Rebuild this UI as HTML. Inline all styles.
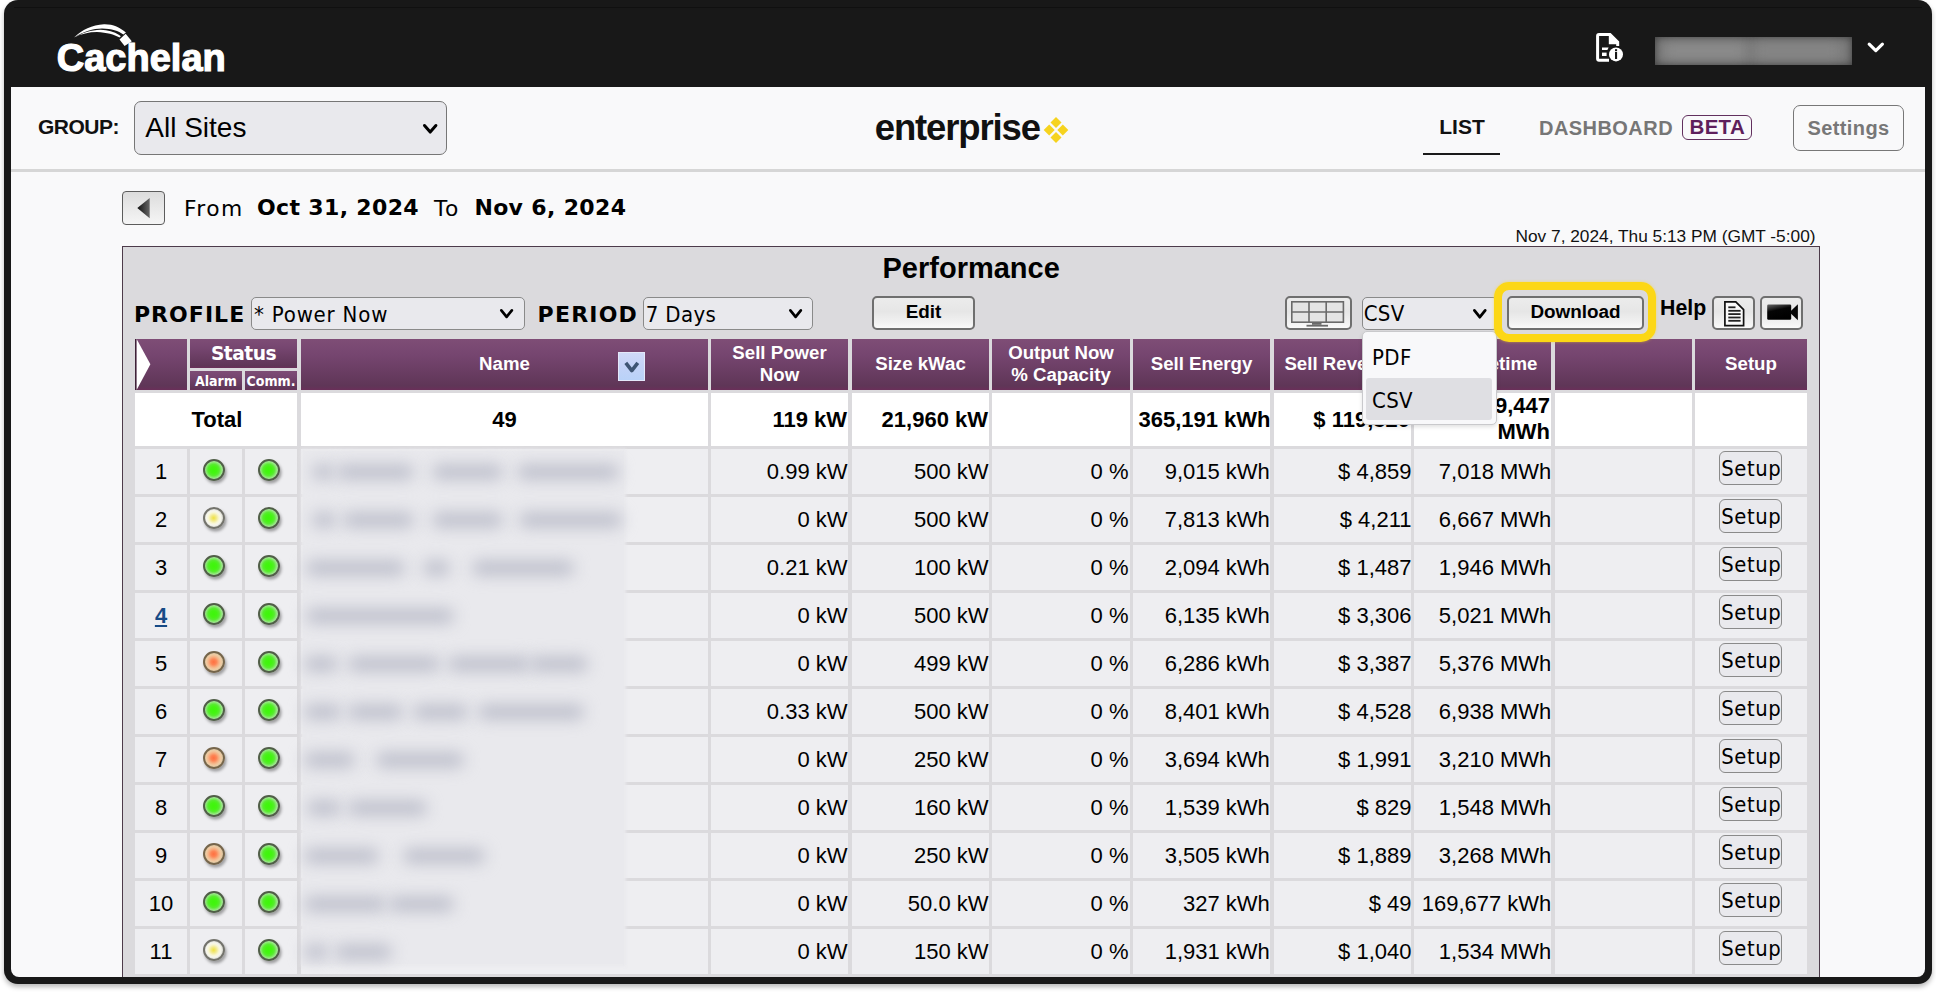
<!DOCTYPE html>
<html><head><meta charset="utf-8"><title>Cachelan enterprise - Performance</title>
<style>
*{box-sizing:border-box;margin:0;padding:0}
html,body{width:1936px;height:992px;overflow:hidden;background:#ffffff}
body{position:relative;font-family:"Liberation Sans",Arial,sans-serif}
.a{position:absolute}
.t{position:absolute;white-space:nowrap}
#frame{position:absolute;left:4px;top:0px;width:1928px;height:984px;background:#181818;border-radius:14px;box-shadow:0 3px 5px rgba(0,0,0,.28)}
#content{position:absolute;left:11px;top:87px;width:1914px;height:890px;background:#f9f9fa;border-radius:0 0 8px 8px}
#clip{position:absolute;left:0;top:0;width:1936px;height:977px;overflow:hidden}
.sel{position:absolute;background:#e9e9ed;border:1px solid #767676;border-radius:5px}
.btn{position:absolute;border:2px solid #6f6f6f;border-radius:5px;background:linear-gradient(#ececec,#e6e6e6 45%,#f1f1f1 80%,#fafafa)}
.hd{position:absolute;background:linear-gradient(#7e4d76 0%,#764670 30%,#6b3e64 60%,#5f3657 92%,#6a2f59 100%)}
.cell{position:absolute;background:#eeeef1}
.tot{position:absolute;background:#ffffff}
.lt{position:absolute;width:22px;height:22px;border-radius:50%;border:2.3px solid #505e47;box-shadow:1.5px 2.5px 3px rgba(0,0,0,.34)}
.g{background:radial-gradient(circle closest-side at 48% 50%,#3ef50a 0%,#44f412 38%,#58ec30 66%,#80e866 84%,#a2e892 100%)}
.y{border-color:#73736c;background:radial-gradient(circle closest-side at 48% 50%,#efe240 0%,#f2ea8a 32%,#f8f6d4 62%,#f6f6ee 84%,#e2e2da 100%)}
.o{border-color:#75654b;background:radial-gradient(circle closest-side at 48% 50%,#ff7040 0%,#fd8556 32%,#f6b083 60%,#efcaa2 84%,#e2c8a2 100%)}
.sb{position:absolute;width:63px;height:34px;background:#e9e9ed;border:1px solid #8a8a8a;border-radius:6px}
.blob{position:absolute;height:14px;border-radius:7px;background:#babcc9;filter:blur(8px)}
</style></head><body>
<div id="frame"></div>
<div id="content"></div>
<div id="clip">

<div class="a" style="left:14px;top:7px;width:1908px;height:1px;background:#101010"></div>
<svg class="a" style="left:60px;top:15px" width="90" height="40" viewBox="60 15 90 40"><path d="M74,37.4 C82,29.5 92,25 104,24.2 C113,24 120,27.5 125.9,32.4 L123.4,34.6 C118.3,31 112,28.8 102,28.6 C93,28.6 84,31.6 74,37.4 Z" fill="#fff"/><path d="M74.3,37.4 C82,32.9 91,29.9 100.5,29.7 C108,29.8 114,31.6 119.2,34.9 L120.8,36.3 L119.6,37.6 C114,34.6 107,32.6 97,32.1 C89,32.1 81,34 74.3,37.4 Z" fill="#fff"/><path d="M119.5,39.5 L125.7,33.7 L131.8,41.3 L124.6,46 Z" fill="#fff"/></svg>
<div class="t " style="left:56.80px;top:38.63px;font:bold 38px/38px 'Liberation Sans', Arial, sans-serif;color:#fff;-webkit-text-stroke:1.2px #fff;letter-spacing:0px;">Cachelan</div>
<svg class="a" style="left:1590px;top:28px" width="40" height="40" viewBox="0 0 40 40"><path d="M19,32.2 H9 Q7.6,32.2 7.6,30.8 V8 Q7.6,6.5 9,6.5 H20 L27.7,14.2 V18" fill="none" stroke="#fff" stroke-width="3"/><path d="M18.8,6 L29,16.3 L18.8,16.3 Z" fill="#fff"/><path d="M12,19.6 H18.6 L17.4,22 H12 Z" fill="#fff"/><rect x="12" y="24.6" width="4.6" height="3.4" fill="#fff"/><circle cx="26" cy="26.4" r="7" fill="#fff"/><rect x="25" y="21.2" width="2.1" height="2" fill="#181818"/><rect x="25" y="24" width="2.1" height="7" fill="#181818"/></svg>
<div class="a" style="left:1655px;top:36.5px;width:197px;height:28px;background:#7a7a7a;overflow:hidden"><div class="a" style="left:-6px;top:-6px;width:209px;height:40px;box-shadow:inset 0 0 9px 6px #3a3a3a;"></div><div class="a" style="left:10px;top:6px;width:80px;height:16px;background:#8c8c8c;filter:blur(6px)"></div><div class="a" style="left:100px;top:6px;width:85px;height:16px;background:#868686;filter:blur(6px)"></div></div>
<svg class="a" style="left:1864px;top:39px" width="24" height="16" viewBox="0 0 24 16"><path d="M5.2,5.2 L11.8,11.6 L18.4,5.2" fill="none" stroke="#fff" stroke-width="3.2" stroke-linecap="round" stroke-linejoin="round"/></svg>
<div class="t " style="left:38.00px;top:116.02px;font:bold 21px/21px 'Liberation Sans', Arial, sans-serif;color:#111;letter-spacing:-0.5px;">GROUP:</div>
<div class="sel" style="left:134px;top:101px;width:313px;height:54px;border-radius:7px"></div>
<div class="t " style="left:145.30px;top:114.10px;font:normal 28px/28px 'Liberation Sans', Arial, sans-serif;color:#000;">All Sites</div>
<svg class="a" style="left:420.2px;top:120.6px" width="20.4" height="15.6" viewBox="0 0 20.4 15.6"><path d="M4.50,4.50 L10.20,11.10 L15.90,4.50" fill="none" stroke="#000" stroke-width="3" stroke-linecap="round" stroke-linejoin="round"/></svg>
<div class="t " style="left:874.80px;top:109.90px;font:bold 36.5px/36.5px 'Liberation Sans', Arial, sans-serif;color:#111;letter-spacing:-1.15px;">enterprise</div>
<svg class="a" style="left:1040px;top:114px" width="32" height="32" viewBox="0 0 32 32"><g fill="#f6d31e"><rect x="-3.9" y="-3.9" width="7.8" height="7.8" transform="translate(16,8.6) rotate(45)"/><rect x="-3.9" y="-3.9" width="7.8" height="7.8" transform="translate(9.2,16) rotate(45)"/><rect x="-3.9" y="-3.9" width="7.8" height="7.8" transform="translate(22.8,16) rotate(45)"/><rect x="-3.9" y="-3.9" width="7.8" height="7.8" transform="translate(16,23.4) rotate(45)"/></g></svg>
<div class="t " style="left:1439.30px;top:116.02px;font:bold 21px/21px 'Liberation Sans', Arial, sans-serif;color:#111;">LIST</div>
<div class="a" style="left:1423px;top:152.5px;width:77px;height:2px;background:#1a1a1a"></div>
<div class="t " style="left:1539.00px;top:117.87px;font:bold 20px/20px 'Liberation Sans', Arial, sans-serif;color:#767676;letter-spacing:0.45px;">DASHBOARD</div>
<div class="a" style="left:1682px;top:115px;width:70px;height:25px;border:1.5px solid #62305e;border-radius:6px"></div>
<div class="t " style="left:1682.30px;width:70px;text-align:center;top:117.25px;font:bold 20.5px/20.5px 'Liberation Sans', Arial, sans-serif;color:#5e1f5c;letter-spacing:0.3px;">BETA</div>
<div class="a" style="left:1793px;top:105px;width:111px;height:46px;border:1.3px solid #777;border-radius:7px"></div>
<div class="t " style="left:1793.00px;width:111px;text-align:center;top:117.87px;font:bold 20px/20px 'Liberation Sans', Arial, sans-serif;color:#777;letter-spacing:0.4px;">Settings</div>
<div class="a" style="left:11px;top:169px;width:1914px;height:3px;background:#d6d6d6"></div>
<div class="a" style="left:122px;top:191px;width:43px;height:34px;border:1.6px solid #5c5c5c;border-radius:4px;background:linear-gradient(#dcdcdc,#e9e9e9 50%,#f5f5f5)"></div>
<svg class="a" style="left:130px;top:194px" width="26" height="28" viewBox="0 0 26 28"><defs><linearGradient id="tri" x1="0" y1="0" x2="1" y2="0"><stop offset="0" stop-color="#111"/><stop offset="1" stop-color="#666"/></linearGradient></defs><path d="M7.3,14 L19.7,3.9 L19.7,24.3 Z" fill="url(#tri)"/></svg>
<div class="t " style="left:184.00px;top:197.55px;font:normal 21.8px/21.8px 'DejaVu Sans', Verdana, sans-serif;color:#000;letter-spacing:1.4px;">From</div>
<div class="t " style="left:257.00px;top:197.38px;font:bold 22px/22px 'DejaVu Sans', Verdana, sans-serif;color:#000;letter-spacing:0.35px;">Oct 31, 2024</div>
<div class="t " style="left:434.00px;top:197.55px;font:normal 21.8px/21.8px 'DejaVu Sans', Verdana, sans-serif;color:#000;letter-spacing:1.4px;">To</div>
<div class="t " style="left:474.40px;top:197.38px;font:bold 22px/22px 'DejaVu Sans', Verdana, sans-serif;color:#000;letter-spacing:0.35px;">Nov 6, 2024</div>
<div class="t " style="right:120.50px;top:227.96px;font:normal 17.3px/17.3px 'Liberation Sans', Arial, sans-serif;color:#111;">Nov 7, 2024, Thu 5:13 PM (GMT -5:00)</div>
<div class="a" style="left:122px;top:246px;width:1698px;height:760px;background:#dbdadd;border:1.3px solid #4d3b4a"></div>
<div class="t " style="left:771.20px;width:400px;text-align:center;top:254.05px;font:bold 29px/29px 'Liberation Sans', Arial, sans-serif;color:#000;">Performance</div>
<div class="t " style="left:133.90px;top:303.58px;font:bold 22px/22px 'DejaVu Sans', Verdana, sans-serif;color:#000;letter-spacing:1.05px;">PROFILE</div>
<div class="sel" style="left:250.5px;top:297px;width:274.5px;height:32.5px;border-color:#8a8a8a"></div>
<div class="t " style="left:254.00px;top:303.58px;font:normal 22px/22px 'DejaVu Sans Condensed', 'DejaVu Sans', Tahoma, sans-serif;color:#000;letter-spacing:0.8px;">* Power Now</div>
<svg class="a" style="left:496.9px;top:306.2px" width="19.2" height="15.2" viewBox="0 0 19.2 15.2"><path d="M4.35,4.35 L9.60,10.85 L14.85,4.35" fill="none" stroke="#000" stroke-width="2.7" stroke-linecap="round" stroke-linejoin="round"/></svg>
<div class="t " style="left:537.60px;top:303.58px;font:bold 22px/22px 'DejaVu Sans', Verdana, sans-serif;color:#000;letter-spacing:1.2px;">PERIOD</div>
<div class="sel" style="left:643.4px;top:297px;width:170px;height:32.5px;border-color:#8a8a8a"></div>
<div class="t " style="left:645.80px;top:303.58px;font:normal 22px/22px 'DejaVu Sans Condensed', 'DejaVu Sans', Tahoma, sans-serif;color:#000;letter-spacing:0.35px;">7 Days</div>
<svg class="a" style="left:786.1px;top:306.2px" width="19.2" height="15.2" viewBox="0 0 19.2 15.2"><path d="M4.35,4.35 L9.60,10.85 L14.85,4.35" fill="none" stroke="#000" stroke-width="2.7" stroke-linecap="round" stroke-linejoin="round"/></svg>
<div class="btn" style="left:872px;top:296px;width:103px;height:34px"></div>
<div class="t " style="left:872.00px;width:103px;text-align:center;top:302.80px;font:bold 18.9px/18.9px 'Liberation Sans', Arial, sans-serif;color:#000;">Edit</div>
<div class="btn" style="left:1285px;top:296px;width:67px;height:34px"></div>
<svg class="a" style="left:1285px;top:296px" width="67" height="34" viewBox="0 0 67 34"><g fill="none" stroke="#6a6a6a" stroke-width="1.6"><rect x="6.8" y="5.8" width="51.6" height="20.4" fill="#e4e4e4"/><line x1="24" y1="5.8" x2="24" y2="26.2"/><line x1="41.2" y1="5.8" x2="41.2" y2="26.2"/><line x1="6.8" y1="16" x2="58.4" y2="16"/></g><rect x="27" y="26.5" width="9.5" height="2.3" fill="#6a6a6a"/><rect x="21.5" y="28.8" width="21.5" height="1.8" fill="#6a6a6a"/></svg>
<div class="sel" style="left:1361.5px;top:296.5px;width:136px;height:33px;border-color:#8a8a8a"></div>
<div class="t " style="left:1363.70px;top:302.58px;font:normal 22px/22px 'DejaVu Sans Condensed', 'DejaVu Sans', Tahoma, sans-serif;color:#000;letter-spacing:0.35px;">CSV</div>
<svg class="a" style="left:1469.6px;top:305.9px" width="19.6" height="15.6" viewBox="0 0 19.6 15.6"><path d="M4.40,4.40 L9.80,11.20 L15.20,4.40" fill="none" stroke="#000" stroke-width="2.8" stroke-linecap="round" stroke-linejoin="round"/></svg>
<div class="btn" style="left:1507px;top:296px;width:137px;height:33.5px"></div>
<div class="t " style="left:1507.00px;width:137px;text-align:center;top:302.80px;font:bold 18.9px/18.9px 'Liberation Sans', Arial, sans-serif;color:#000;">Download</div>
<div class="t " style="left:1660.00px;top:298.27px;font:bold 21.3px/21.3px 'Liberation Sans', Arial, sans-serif;color:#000;">Help</div>
<div class="btn" style="left:1712px;top:296px;width:43px;height:34px"></div>
<svg class="a" style="left:1712px;top:296px" width="43" height="34" viewBox="0 0 43 34"><path d="M12.9,5.9 H23.8 L31.6,13.6 V29.6 H12.9 Z" fill="#fafafa" stroke="#111" stroke-width="1.7" stroke-linejoin="miter"/><g fill="#222"><rect x="16.3" y="10.4" width="7.2" height="1.8"/><rect x="16.3" y="13.9" width="12.3" height="1.8"/><rect x="16.3" y="17.2" width="12.3" height="1.8"/><rect x="16.3" y="20.6" width="12.3" height="1.8"/><rect x="16.3" y="23.9" width="12.3" height="1.8"/></g></svg>
<div class="btn" style="left:1760px;top:296px;width:43px;height:34px"></div>
<svg class="a" style="left:1760px;top:296px" width="43" height="34" viewBox="0 0 43 34"><defs><linearGradient id="cam" x1="0" y1="0" x2="0.35" y2="1"><stop offset="0" stop-color="#666"/><stop offset="0.45" stop-color="#050505"/><stop offset="1" stop-color="#000"/></linearGradient></defs><rect x="7.2" y="8.6" width="24" height="15.2" rx="1.2" fill="url(#cam)"/><path d="M29.5,16.2 L37.9,8.2 V24.2 Z" fill="#050505"/></svg>
<div class="hd" style="left:135px;top:339.0px;width:52px;height:51.0px"></div>
<svg class="a" style="left:135px;top:339.0px" width="20" height="51.0" viewBox="0 0 20 51.0"><rect x="0" y="0" width="1.6" height="51.0" fill="#3e2238"/><path d="M1.6,0 L15.4,25.2 L1.6,51.0 Z" fill="#fff"/></svg>
<div class="hd" style="left:190px;top:339.0px;width:107px;height:28.5px"></div>
<div class="t " style="left:190.00px;width:107px;text-align:center;top:345.40px;font:bold 18.67px/18.67px 'DejaVu Sans', Verdana, sans-serif;color:#fff;letter-spacing:-0.5px;">Status</div>
<div class="hd" style="left:190px;top:371.3px;width:52px;height:18.69999999999999px"></div>
<div class="hd" style="left:245px;top:371.3px;width:52px;height:18.69999999999999px"></div>
<div class="t " style="left:190.00px;width:52px;text-align:center;top:373.65px;font:bold 14px/14px 'DejaVu Sans Condensed', 'DejaVu Sans', Tahoma, sans-serif;color:#fff;">Alarm</div>
<div class="t " style="left:245.00px;width:52px;text-align:center;top:373.65px;font:bold 14px/14px 'DejaVu Sans Condensed', 'DejaVu Sans', Tahoma, sans-serif;color:#fff;">Comm.</div>
<div class="hd" style="left:301px;top:339.0px;width:407px;height:51.0px"></div>
<div class="t " style="left:301.00px;width:407px;text-align:center;top:354.50px;font:bold 18.67px/18.67px 'Liberation Sans', Arial, sans-serif;color:#fff;">Name</div>
<div class="hd" style="left:711px;top:339.0px;width:137px;height:51.0px"></div>
<div class="t " style="left:711.00px;width:137px;text-align:center;top:343.80px;font:bold 18.67px/18.67px 'Liberation Sans', Arial, sans-serif;color:#fff;">Sell Power</div>
<div class="t " style="left:711.00px;width:137px;text-align:center;top:365.60px;font:bold 18.67px/18.67px 'Liberation Sans', Arial, sans-serif;color:#fff;">Now</div>
<div class="hd" style="left:852px;top:339.0px;width:137px;height:51.0px"></div>
<div class="t " style="left:852.00px;width:137px;text-align:center;top:354.50px;font:bold 18.67px/18.67px 'Liberation Sans', Arial, sans-serif;color:#fff;">Size kWac</div>
<div class="hd" style="left:992px;top:339.0px;width:138px;height:51.0px"></div>
<div class="t " style="left:992.00px;width:138px;text-align:center;top:343.80px;font:bold 18.67px/18.67px 'Liberation Sans', Arial, sans-serif;color:#fff;">Output Now</div>
<div class="t " style="left:992.00px;width:138px;text-align:center;top:365.60px;font:bold 18.67px/18.67px 'Liberation Sans', Arial, sans-serif;color:#fff;">% Capacity</div>
<div class="hd" style="left:1133px;top:339.0px;width:137px;height:51.0px"></div>
<div class="t " style="left:1133.00px;width:137px;text-align:center;top:354.50px;font:bold 18.67px/18.67px 'Liberation Sans', Arial, sans-serif;color:#fff;">Sell Energy</div>
<div class="hd" style="left:1274px;top:339.0px;width:137px;height:51.0px"></div>
<div class="t " style="left:1274.00px;width:137px;text-align:center;top:354.50px;font:bold 18.67px/18.67px 'Liberation Sans', Arial, sans-serif;color:#fff;">Sell Revenue</div>
<div class="hd" style="left:1414px;top:339.0px;width:137px;height:51.0px"></div>
<div class="t " style="left:1414.00px;width:137px;text-align:center;top:354.50px;font:bold 18.67px/18.67px 'Liberation Sans', Arial, sans-serif;color:#fff;">Sell Lifetime</div>
<div class="hd" style="left:1555px;top:339.0px;width:137px;height:51.0px"></div>
<div class="hd" style="left:1695px;top:339.0px;width:112px;height:51.0px"></div>
<div class="t " style="left:1695.00px;width:112px;text-align:center;top:354.50px;font:bold 18.67px/18.67px 'Liberation Sans', Arial, sans-serif;color:#fff;">Setup</div>
<div class="a" style="left:618.2px;top:352.3px;width:26.8px;height:28.3px;background:linear-gradient(#d0d9f8,#c3d3f7 50%,#b9d2f8);border:1px solid #e4e8fa"></div>
<svg class="a" style="left:621.1px;top:357.6px" width="21.6" height="17.4" viewBox="0 0 21.6 17.4"><path d="M4.80,4.80 L10.80,12.60 L16.80,4.80" fill="none" stroke="#3e5573" stroke-width="3.6" stroke-linecap="butt" stroke-linejoin="round"/></svg>
<div class="tot" style="left:135px;top:393.3px;width:162px;height:53.19999999999999px"></div>
<div class="tot" style="left:301px;top:393.3px;width:407px;height:53.19999999999999px"></div>
<div class="tot" style="left:711px;top:393.3px;width:137px;height:53.19999999999999px"></div>
<div class="tot" style="left:852px;top:393.3px;width:137px;height:53.19999999999999px"></div>
<div class="tot" style="left:992px;top:393.3px;width:138px;height:53.19999999999999px"></div>
<div class="tot" style="left:1133px;top:393.3px;width:137px;height:53.19999999999999px"></div>
<div class="tot" style="left:1274px;top:393.3px;width:137px;height:53.19999999999999px"></div>
<div class="tot" style="left:1414px;top:393.3px;width:137px;height:53.19999999999999px"></div>
<div class="tot" style="left:1555px;top:393.3px;width:137px;height:53.19999999999999px"></div>
<div class="tot" style="left:1695px;top:393.3px;width:112px;height:53.19999999999999px"></div>
<div class="t " style="left:136.00px;width:162px;text-align:center;top:408.98px;font:bold 22px/22px 'Liberation Sans', Arial, sans-serif;color:#000;">Total</div>
<div class="t " style="left:404.50px;width:200px;text-align:center;top:408.98px;font:bold 22px/22px 'Liberation Sans', Arial, sans-serif;color:#000;">49</div>
<div class="t " style="right:1089.00px;top:408.98px;font:bold 22px/22px 'Liberation Sans', Arial, sans-serif;color:#000;">119 kW</div>
<div class="t " style="right:948.00px;top:408.98px;font:bold 22px/22px 'Liberation Sans', Arial, sans-serif;color:#000;">21,960 kW</div>
<div class="t " style="right:665.50px;top:408.98px;font:bold 22px/22px 'Liberation Sans', Arial, sans-serif;color:#000;">365,191 kWh</div>
<div class="t " style="right:526.00px;top:408.98px;font:bold 22px/22px 'Liberation Sans', Arial, sans-serif;color:#000;">$ 119,320</div>
<div class="t " style="right:386.00px;top:394.78px;font:bold 22px/22px 'Liberation Sans', Arial, sans-serif;color:#000;">369,447</div>
<div class="t " style="right:386.00px;top:420.58px;font:bold 22px/22px 'Liberation Sans', Arial, sans-serif;color:#000;">MWh</div>
<div class="cell" style="left:135px;top:449.0px;width:52px;height:45.0px"></div>
<div class="cell" style="left:190px;top:449.0px;width:52px;height:45.0px"></div>
<div class="cell" style="left:245px;top:449.0px;width:52px;height:45.0px"></div>
<div class="cell" style="left:301px;top:449.0px;width:407px;height:45.0px"></div>
<div class="cell" style="left:711px;top:449.0px;width:137px;height:45.0px"></div>
<div class="cell" style="left:852px;top:449.0px;width:137px;height:45.0px"></div>
<div class="cell" style="left:992px;top:449.0px;width:138px;height:45.0px"></div>
<div class="cell" style="left:1133px;top:449.0px;width:137px;height:45.0px"></div>
<div class="cell" style="left:1274px;top:449.0px;width:137px;height:45.0px"></div>
<div class="cell" style="left:1414px;top:449.0px;width:137px;height:45.0px"></div>
<div class="cell" style="left:1555px;top:449.0px;width:137px;height:45.0px"></div>
<div class="cell" style="left:1695px;top:449.0px;width:112px;height:45.0px"></div>
<div class="t " style="left:135.00px;width:52px;text-align:center;top:460.98px;font:normal 22px/22px 'Liberation Sans', Arial, sans-serif;color:#000;">1</div>
<div class="lt g" style="left:203.2px;top:458.5px"></div>
<div class="lt g" style="left:258.4px;top:458.5px"></div>
<div class="t " style="right:1088.50px;top:460.98px;font:normal 22px/22px 'Liberation Sans', Arial, sans-serif;color:#000;">0.99 kW</div>
<div class="t " style="right:947.50px;top:460.98px;font:normal 22px/22px 'Liberation Sans', Arial, sans-serif;color:#000;">500 kW</div>
<div class="t " style="right:807.50px;top:460.98px;font:normal 22px/22px 'Liberation Sans', Arial, sans-serif;color:#000;">0 %</div>
<div class="t " style="right:666.20px;top:460.98px;font:normal 22px/22px 'Liberation Sans', Arial, sans-serif;color:#000;">9,015 kWh</div>
<div class="t " style="right:524.50px;top:460.98px;font:normal 22px/22px 'Liberation Sans', Arial, sans-serif;color:#000;">$ 4,859</div>
<div class="t " style="right:384.70px;top:460.98px;font:normal 22px/22px 'Liberation Sans', Arial, sans-serif;color:#000;">7,018 MWh</div>
<div class="sb" style="left:1719.4px;top:451.0px"></div>
<div class="t " style="left:1719.80px;width:63px;text-align:center;top:458.15px;font:normal 21.8px/21.8px 'DejaVu Sans Condensed', 'DejaVu Sans', Tahoma, sans-serif;color:#000;letter-spacing:0.6px;">Setup</div>
<div class="cell" style="left:135px;top:497.0px;width:52px;height:45.0px"></div>
<div class="cell" style="left:190px;top:497.0px;width:52px;height:45.0px"></div>
<div class="cell" style="left:245px;top:497.0px;width:52px;height:45.0px"></div>
<div class="cell" style="left:301px;top:497.0px;width:407px;height:45.0px"></div>
<div class="cell" style="left:711px;top:497.0px;width:137px;height:45.0px"></div>
<div class="cell" style="left:852px;top:497.0px;width:137px;height:45.0px"></div>
<div class="cell" style="left:992px;top:497.0px;width:138px;height:45.0px"></div>
<div class="cell" style="left:1133px;top:497.0px;width:137px;height:45.0px"></div>
<div class="cell" style="left:1274px;top:497.0px;width:137px;height:45.0px"></div>
<div class="cell" style="left:1414px;top:497.0px;width:137px;height:45.0px"></div>
<div class="cell" style="left:1555px;top:497.0px;width:137px;height:45.0px"></div>
<div class="cell" style="left:1695px;top:497.0px;width:112px;height:45.0px"></div>
<div class="t " style="left:135.00px;width:52px;text-align:center;top:508.98px;font:normal 22px/22px 'Liberation Sans', Arial, sans-serif;color:#000;">2</div>
<div class="lt y" style="left:203.2px;top:506.5px"></div>
<div class="lt g" style="left:258.4px;top:506.5px"></div>
<div class="t " style="right:1088.50px;top:508.98px;font:normal 22px/22px 'Liberation Sans', Arial, sans-serif;color:#000;">0 kW</div>
<div class="t " style="right:947.50px;top:508.98px;font:normal 22px/22px 'Liberation Sans', Arial, sans-serif;color:#000;">500 kW</div>
<div class="t " style="right:807.50px;top:508.98px;font:normal 22px/22px 'Liberation Sans', Arial, sans-serif;color:#000;">0 %</div>
<div class="t " style="right:666.20px;top:508.98px;font:normal 22px/22px 'Liberation Sans', Arial, sans-serif;color:#000;">7,813 kWh</div>
<div class="t " style="right:524.50px;top:508.98px;font:normal 22px/22px 'Liberation Sans', Arial, sans-serif;color:#000;">$ 4,211</div>
<div class="t " style="right:384.70px;top:508.98px;font:normal 22px/22px 'Liberation Sans', Arial, sans-serif;color:#000;">6,667 MWh</div>
<div class="sb" style="left:1719.4px;top:499.0px"></div>
<div class="t " style="left:1719.80px;width:63px;text-align:center;top:506.15px;font:normal 21.8px/21.8px 'DejaVu Sans Condensed', 'DejaVu Sans', Tahoma, sans-serif;color:#000;letter-spacing:0.6px;">Setup</div>
<div class="cell" style="left:135px;top:545.0px;width:52px;height:45.0px"></div>
<div class="cell" style="left:190px;top:545.0px;width:52px;height:45.0px"></div>
<div class="cell" style="left:245px;top:545.0px;width:52px;height:45.0px"></div>
<div class="cell" style="left:301px;top:545.0px;width:407px;height:45.0px"></div>
<div class="cell" style="left:711px;top:545.0px;width:137px;height:45.0px"></div>
<div class="cell" style="left:852px;top:545.0px;width:137px;height:45.0px"></div>
<div class="cell" style="left:992px;top:545.0px;width:138px;height:45.0px"></div>
<div class="cell" style="left:1133px;top:545.0px;width:137px;height:45.0px"></div>
<div class="cell" style="left:1274px;top:545.0px;width:137px;height:45.0px"></div>
<div class="cell" style="left:1414px;top:545.0px;width:137px;height:45.0px"></div>
<div class="cell" style="left:1555px;top:545.0px;width:137px;height:45.0px"></div>
<div class="cell" style="left:1695px;top:545.0px;width:112px;height:45.0px"></div>
<div class="t " style="left:135.00px;width:52px;text-align:center;top:556.98px;font:normal 22px/22px 'Liberation Sans', Arial, sans-serif;color:#000;">3</div>
<div class="lt g" style="left:203.2px;top:554.5px"></div>
<div class="lt g" style="left:258.4px;top:554.5px"></div>
<div class="t " style="right:1088.50px;top:556.98px;font:normal 22px/22px 'Liberation Sans', Arial, sans-serif;color:#000;">0.21 kW</div>
<div class="t " style="right:947.50px;top:556.98px;font:normal 22px/22px 'Liberation Sans', Arial, sans-serif;color:#000;">100 kW</div>
<div class="t " style="right:807.50px;top:556.98px;font:normal 22px/22px 'Liberation Sans', Arial, sans-serif;color:#000;">0 %</div>
<div class="t " style="right:666.20px;top:556.98px;font:normal 22px/22px 'Liberation Sans', Arial, sans-serif;color:#000;">2,094 kWh</div>
<div class="t " style="right:524.50px;top:556.98px;font:normal 22px/22px 'Liberation Sans', Arial, sans-serif;color:#000;">$ 1,487</div>
<div class="t " style="right:384.70px;top:556.98px;font:normal 22px/22px 'Liberation Sans', Arial, sans-serif;color:#000;">1,946 MWh</div>
<div class="sb" style="left:1719.4px;top:547.0px"></div>
<div class="t " style="left:1719.80px;width:63px;text-align:center;top:554.15px;font:normal 21.8px/21.8px 'DejaVu Sans Condensed', 'DejaVu Sans', Tahoma, sans-serif;color:#000;letter-spacing:0.6px;">Setup</div>
<div class="cell" style="left:135px;top:593.0px;width:52px;height:45.0px"></div>
<div class="cell" style="left:190px;top:593.0px;width:52px;height:45.0px"></div>
<div class="cell" style="left:245px;top:593.0px;width:52px;height:45.0px"></div>
<div class="cell" style="left:301px;top:593.0px;width:407px;height:45.0px"></div>
<div class="cell" style="left:711px;top:593.0px;width:137px;height:45.0px"></div>
<div class="cell" style="left:852px;top:593.0px;width:137px;height:45.0px"></div>
<div class="cell" style="left:992px;top:593.0px;width:138px;height:45.0px"></div>
<div class="cell" style="left:1133px;top:593.0px;width:137px;height:45.0px"></div>
<div class="cell" style="left:1274px;top:593.0px;width:137px;height:45.0px"></div>
<div class="cell" style="left:1414px;top:593.0px;width:137px;height:45.0px"></div>
<div class="cell" style="left:1555px;top:593.0px;width:137px;height:45.0px"></div>
<div class="cell" style="left:1695px;top:593.0px;width:112px;height:45.0px"></div>
<div class="t " style="left:135.00px;width:52px;text-align:center;top:604.98px;font:bold 22px/22px 'Liberation Sans', Arial, sans-serif;color:#174a86;"><span style="text-decoration:underline;text-decoration-thickness:2px;text-underline-offset:1.6px">4</span></div>
<div class="lt g" style="left:203.2px;top:602.5px"></div>
<div class="lt g" style="left:258.4px;top:602.5px"></div>
<div class="t " style="right:1088.50px;top:604.98px;font:normal 22px/22px 'Liberation Sans', Arial, sans-serif;color:#000;">0 kW</div>
<div class="t " style="right:947.50px;top:604.98px;font:normal 22px/22px 'Liberation Sans', Arial, sans-serif;color:#000;">500 kW</div>
<div class="t " style="right:807.50px;top:604.98px;font:normal 22px/22px 'Liberation Sans', Arial, sans-serif;color:#000;">0 %</div>
<div class="t " style="right:666.20px;top:604.98px;font:normal 22px/22px 'Liberation Sans', Arial, sans-serif;color:#000;">6,135 kWh</div>
<div class="t " style="right:524.50px;top:604.98px;font:normal 22px/22px 'Liberation Sans', Arial, sans-serif;color:#000;">$ 3,306</div>
<div class="t " style="right:384.70px;top:604.98px;font:normal 22px/22px 'Liberation Sans', Arial, sans-serif;color:#000;">5,021 MWh</div>
<div class="sb" style="left:1719.4px;top:595.0px"></div>
<div class="t " style="left:1719.80px;width:63px;text-align:center;top:602.15px;font:normal 21.8px/21.8px 'DejaVu Sans Condensed', 'DejaVu Sans', Tahoma, sans-serif;color:#000;letter-spacing:0.6px;">Setup</div>
<div class="cell" style="left:135px;top:641.0px;width:52px;height:45.0px"></div>
<div class="cell" style="left:190px;top:641.0px;width:52px;height:45.0px"></div>
<div class="cell" style="left:245px;top:641.0px;width:52px;height:45.0px"></div>
<div class="cell" style="left:301px;top:641.0px;width:407px;height:45.0px"></div>
<div class="cell" style="left:711px;top:641.0px;width:137px;height:45.0px"></div>
<div class="cell" style="left:852px;top:641.0px;width:137px;height:45.0px"></div>
<div class="cell" style="left:992px;top:641.0px;width:138px;height:45.0px"></div>
<div class="cell" style="left:1133px;top:641.0px;width:137px;height:45.0px"></div>
<div class="cell" style="left:1274px;top:641.0px;width:137px;height:45.0px"></div>
<div class="cell" style="left:1414px;top:641.0px;width:137px;height:45.0px"></div>
<div class="cell" style="left:1555px;top:641.0px;width:137px;height:45.0px"></div>
<div class="cell" style="left:1695px;top:641.0px;width:112px;height:45.0px"></div>
<div class="t " style="left:135.00px;width:52px;text-align:center;top:652.98px;font:normal 22px/22px 'Liberation Sans', Arial, sans-serif;color:#000;">5</div>
<div class="lt o" style="left:203.2px;top:650.5px"></div>
<div class="lt g" style="left:258.4px;top:650.5px"></div>
<div class="t " style="right:1088.50px;top:652.98px;font:normal 22px/22px 'Liberation Sans', Arial, sans-serif;color:#000;">0 kW</div>
<div class="t " style="right:947.50px;top:652.98px;font:normal 22px/22px 'Liberation Sans', Arial, sans-serif;color:#000;">499 kW</div>
<div class="t " style="right:807.50px;top:652.98px;font:normal 22px/22px 'Liberation Sans', Arial, sans-serif;color:#000;">0 %</div>
<div class="t " style="right:666.20px;top:652.98px;font:normal 22px/22px 'Liberation Sans', Arial, sans-serif;color:#000;">6,286 kWh</div>
<div class="t " style="right:524.50px;top:652.98px;font:normal 22px/22px 'Liberation Sans', Arial, sans-serif;color:#000;">$ 3,387</div>
<div class="t " style="right:384.70px;top:652.98px;font:normal 22px/22px 'Liberation Sans', Arial, sans-serif;color:#000;">5,376 MWh</div>
<div class="sb" style="left:1719.4px;top:643.0px"></div>
<div class="t " style="left:1719.80px;width:63px;text-align:center;top:650.15px;font:normal 21.8px/21.8px 'DejaVu Sans Condensed', 'DejaVu Sans', Tahoma, sans-serif;color:#000;letter-spacing:0.6px;">Setup</div>
<div class="cell" style="left:135px;top:689.0px;width:52px;height:45.0px"></div>
<div class="cell" style="left:190px;top:689.0px;width:52px;height:45.0px"></div>
<div class="cell" style="left:245px;top:689.0px;width:52px;height:45.0px"></div>
<div class="cell" style="left:301px;top:689.0px;width:407px;height:45.0px"></div>
<div class="cell" style="left:711px;top:689.0px;width:137px;height:45.0px"></div>
<div class="cell" style="left:852px;top:689.0px;width:137px;height:45.0px"></div>
<div class="cell" style="left:992px;top:689.0px;width:138px;height:45.0px"></div>
<div class="cell" style="left:1133px;top:689.0px;width:137px;height:45.0px"></div>
<div class="cell" style="left:1274px;top:689.0px;width:137px;height:45.0px"></div>
<div class="cell" style="left:1414px;top:689.0px;width:137px;height:45.0px"></div>
<div class="cell" style="left:1555px;top:689.0px;width:137px;height:45.0px"></div>
<div class="cell" style="left:1695px;top:689.0px;width:112px;height:45.0px"></div>
<div class="t " style="left:135.00px;width:52px;text-align:center;top:700.98px;font:normal 22px/22px 'Liberation Sans', Arial, sans-serif;color:#000;">6</div>
<div class="lt g" style="left:203.2px;top:698.5px"></div>
<div class="lt g" style="left:258.4px;top:698.5px"></div>
<div class="t " style="right:1088.50px;top:700.98px;font:normal 22px/22px 'Liberation Sans', Arial, sans-serif;color:#000;">0.33 kW</div>
<div class="t " style="right:947.50px;top:700.98px;font:normal 22px/22px 'Liberation Sans', Arial, sans-serif;color:#000;">500 kW</div>
<div class="t " style="right:807.50px;top:700.98px;font:normal 22px/22px 'Liberation Sans', Arial, sans-serif;color:#000;">0 %</div>
<div class="t " style="right:666.20px;top:700.98px;font:normal 22px/22px 'Liberation Sans', Arial, sans-serif;color:#000;">8,401 kWh</div>
<div class="t " style="right:524.50px;top:700.98px;font:normal 22px/22px 'Liberation Sans', Arial, sans-serif;color:#000;">$ 4,528</div>
<div class="t " style="right:384.70px;top:700.98px;font:normal 22px/22px 'Liberation Sans', Arial, sans-serif;color:#000;">6,938 MWh</div>
<div class="sb" style="left:1719.4px;top:691.0px"></div>
<div class="t " style="left:1719.80px;width:63px;text-align:center;top:698.15px;font:normal 21.8px/21.8px 'DejaVu Sans Condensed', 'DejaVu Sans', Tahoma, sans-serif;color:#000;letter-spacing:0.6px;">Setup</div>
<div class="cell" style="left:135px;top:737.0px;width:52px;height:45.0px"></div>
<div class="cell" style="left:190px;top:737.0px;width:52px;height:45.0px"></div>
<div class="cell" style="left:245px;top:737.0px;width:52px;height:45.0px"></div>
<div class="cell" style="left:301px;top:737.0px;width:407px;height:45.0px"></div>
<div class="cell" style="left:711px;top:737.0px;width:137px;height:45.0px"></div>
<div class="cell" style="left:852px;top:737.0px;width:137px;height:45.0px"></div>
<div class="cell" style="left:992px;top:737.0px;width:138px;height:45.0px"></div>
<div class="cell" style="left:1133px;top:737.0px;width:137px;height:45.0px"></div>
<div class="cell" style="left:1274px;top:737.0px;width:137px;height:45.0px"></div>
<div class="cell" style="left:1414px;top:737.0px;width:137px;height:45.0px"></div>
<div class="cell" style="left:1555px;top:737.0px;width:137px;height:45.0px"></div>
<div class="cell" style="left:1695px;top:737.0px;width:112px;height:45.0px"></div>
<div class="t " style="left:135.00px;width:52px;text-align:center;top:748.98px;font:normal 22px/22px 'Liberation Sans', Arial, sans-serif;color:#000;">7</div>
<div class="lt o" style="left:203.2px;top:746.5px"></div>
<div class="lt g" style="left:258.4px;top:746.5px"></div>
<div class="t " style="right:1088.50px;top:748.98px;font:normal 22px/22px 'Liberation Sans', Arial, sans-serif;color:#000;">0 kW</div>
<div class="t " style="right:947.50px;top:748.98px;font:normal 22px/22px 'Liberation Sans', Arial, sans-serif;color:#000;">250 kW</div>
<div class="t " style="right:807.50px;top:748.98px;font:normal 22px/22px 'Liberation Sans', Arial, sans-serif;color:#000;">0 %</div>
<div class="t " style="right:666.20px;top:748.98px;font:normal 22px/22px 'Liberation Sans', Arial, sans-serif;color:#000;">3,694 kWh</div>
<div class="t " style="right:524.50px;top:748.98px;font:normal 22px/22px 'Liberation Sans', Arial, sans-serif;color:#000;">$ 1,991</div>
<div class="t " style="right:384.70px;top:748.98px;font:normal 22px/22px 'Liberation Sans', Arial, sans-serif;color:#000;">3,210 MWh</div>
<div class="sb" style="left:1719.4px;top:739.0px"></div>
<div class="t " style="left:1719.80px;width:63px;text-align:center;top:746.15px;font:normal 21.8px/21.8px 'DejaVu Sans Condensed', 'DejaVu Sans', Tahoma, sans-serif;color:#000;letter-spacing:0.6px;">Setup</div>
<div class="cell" style="left:135px;top:785.0px;width:52px;height:45.0px"></div>
<div class="cell" style="left:190px;top:785.0px;width:52px;height:45.0px"></div>
<div class="cell" style="left:245px;top:785.0px;width:52px;height:45.0px"></div>
<div class="cell" style="left:301px;top:785.0px;width:407px;height:45.0px"></div>
<div class="cell" style="left:711px;top:785.0px;width:137px;height:45.0px"></div>
<div class="cell" style="left:852px;top:785.0px;width:137px;height:45.0px"></div>
<div class="cell" style="left:992px;top:785.0px;width:138px;height:45.0px"></div>
<div class="cell" style="left:1133px;top:785.0px;width:137px;height:45.0px"></div>
<div class="cell" style="left:1274px;top:785.0px;width:137px;height:45.0px"></div>
<div class="cell" style="left:1414px;top:785.0px;width:137px;height:45.0px"></div>
<div class="cell" style="left:1555px;top:785.0px;width:137px;height:45.0px"></div>
<div class="cell" style="left:1695px;top:785.0px;width:112px;height:45.0px"></div>
<div class="t " style="left:135.00px;width:52px;text-align:center;top:796.98px;font:normal 22px/22px 'Liberation Sans', Arial, sans-serif;color:#000;">8</div>
<div class="lt g" style="left:203.2px;top:794.5px"></div>
<div class="lt g" style="left:258.4px;top:794.5px"></div>
<div class="t " style="right:1088.50px;top:796.98px;font:normal 22px/22px 'Liberation Sans', Arial, sans-serif;color:#000;">0 kW</div>
<div class="t " style="right:947.50px;top:796.98px;font:normal 22px/22px 'Liberation Sans', Arial, sans-serif;color:#000;">160 kW</div>
<div class="t " style="right:807.50px;top:796.98px;font:normal 22px/22px 'Liberation Sans', Arial, sans-serif;color:#000;">0 %</div>
<div class="t " style="right:666.20px;top:796.98px;font:normal 22px/22px 'Liberation Sans', Arial, sans-serif;color:#000;">1,539 kWh</div>
<div class="t " style="right:524.50px;top:796.98px;font:normal 22px/22px 'Liberation Sans', Arial, sans-serif;color:#000;">$ 829</div>
<div class="t " style="right:384.70px;top:796.98px;font:normal 22px/22px 'Liberation Sans', Arial, sans-serif;color:#000;">1,548 MWh</div>
<div class="sb" style="left:1719.4px;top:787.0px"></div>
<div class="t " style="left:1719.80px;width:63px;text-align:center;top:794.15px;font:normal 21.8px/21.8px 'DejaVu Sans Condensed', 'DejaVu Sans', Tahoma, sans-serif;color:#000;letter-spacing:0.6px;">Setup</div>
<div class="cell" style="left:135px;top:833.0px;width:52px;height:45.0px"></div>
<div class="cell" style="left:190px;top:833.0px;width:52px;height:45.0px"></div>
<div class="cell" style="left:245px;top:833.0px;width:52px;height:45.0px"></div>
<div class="cell" style="left:301px;top:833.0px;width:407px;height:45.0px"></div>
<div class="cell" style="left:711px;top:833.0px;width:137px;height:45.0px"></div>
<div class="cell" style="left:852px;top:833.0px;width:137px;height:45.0px"></div>
<div class="cell" style="left:992px;top:833.0px;width:138px;height:45.0px"></div>
<div class="cell" style="left:1133px;top:833.0px;width:137px;height:45.0px"></div>
<div class="cell" style="left:1274px;top:833.0px;width:137px;height:45.0px"></div>
<div class="cell" style="left:1414px;top:833.0px;width:137px;height:45.0px"></div>
<div class="cell" style="left:1555px;top:833.0px;width:137px;height:45.0px"></div>
<div class="cell" style="left:1695px;top:833.0px;width:112px;height:45.0px"></div>
<div class="t " style="left:135.00px;width:52px;text-align:center;top:844.98px;font:normal 22px/22px 'Liberation Sans', Arial, sans-serif;color:#000;">9</div>
<div class="lt o" style="left:203.2px;top:842.5px"></div>
<div class="lt g" style="left:258.4px;top:842.5px"></div>
<div class="t " style="right:1088.50px;top:844.98px;font:normal 22px/22px 'Liberation Sans', Arial, sans-serif;color:#000;">0 kW</div>
<div class="t " style="right:947.50px;top:844.98px;font:normal 22px/22px 'Liberation Sans', Arial, sans-serif;color:#000;">250 kW</div>
<div class="t " style="right:807.50px;top:844.98px;font:normal 22px/22px 'Liberation Sans', Arial, sans-serif;color:#000;">0 %</div>
<div class="t " style="right:666.20px;top:844.98px;font:normal 22px/22px 'Liberation Sans', Arial, sans-serif;color:#000;">3,505 kWh</div>
<div class="t " style="right:524.50px;top:844.98px;font:normal 22px/22px 'Liberation Sans', Arial, sans-serif;color:#000;">$ 1,889</div>
<div class="t " style="right:384.70px;top:844.98px;font:normal 22px/22px 'Liberation Sans', Arial, sans-serif;color:#000;">3,268 MWh</div>
<div class="sb" style="left:1719.4px;top:835.0px"></div>
<div class="t " style="left:1719.80px;width:63px;text-align:center;top:842.15px;font:normal 21.8px/21.8px 'DejaVu Sans Condensed', 'DejaVu Sans', Tahoma, sans-serif;color:#000;letter-spacing:0.6px;">Setup</div>
<div class="cell" style="left:135px;top:881.0px;width:52px;height:45.0px"></div>
<div class="cell" style="left:190px;top:881.0px;width:52px;height:45.0px"></div>
<div class="cell" style="left:245px;top:881.0px;width:52px;height:45.0px"></div>
<div class="cell" style="left:301px;top:881.0px;width:407px;height:45.0px"></div>
<div class="cell" style="left:711px;top:881.0px;width:137px;height:45.0px"></div>
<div class="cell" style="left:852px;top:881.0px;width:137px;height:45.0px"></div>
<div class="cell" style="left:992px;top:881.0px;width:138px;height:45.0px"></div>
<div class="cell" style="left:1133px;top:881.0px;width:137px;height:45.0px"></div>
<div class="cell" style="left:1274px;top:881.0px;width:137px;height:45.0px"></div>
<div class="cell" style="left:1414px;top:881.0px;width:137px;height:45.0px"></div>
<div class="cell" style="left:1555px;top:881.0px;width:137px;height:45.0px"></div>
<div class="cell" style="left:1695px;top:881.0px;width:112px;height:45.0px"></div>
<div class="t " style="left:135.00px;width:52px;text-align:center;top:892.98px;font:normal 22px/22px 'Liberation Sans', Arial, sans-serif;color:#000;">10</div>
<div class="lt g" style="left:203.2px;top:890.5px"></div>
<div class="lt g" style="left:258.4px;top:890.5px"></div>
<div class="t " style="right:1088.50px;top:892.98px;font:normal 22px/22px 'Liberation Sans', Arial, sans-serif;color:#000;">0 kW</div>
<div class="t " style="right:947.50px;top:892.98px;font:normal 22px/22px 'Liberation Sans', Arial, sans-serif;color:#000;">50.0 kW</div>
<div class="t " style="right:807.50px;top:892.98px;font:normal 22px/22px 'Liberation Sans', Arial, sans-serif;color:#000;">0 %</div>
<div class="t " style="right:666.20px;top:892.98px;font:normal 22px/22px 'Liberation Sans', Arial, sans-serif;color:#000;">327 kWh</div>
<div class="t " style="right:524.50px;top:892.98px;font:normal 22px/22px 'Liberation Sans', Arial, sans-serif;color:#000;">$ 49</div>
<div class="t " style="right:384.70px;top:892.98px;font:normal 22px/22px 'Liberation Sans', Arial, sans-serif;color:#000;">169,677 kWh</div>
<div class="sb" style="left:1719.4px;top:883.0px"></div>
<div class="t " style="left:1719.80px;width:63px;text-align:center;top:890.15px;font:normal 21.8px/21.8px 'DejaVu Sans Condensed', 'DejaVu Sans', Tahoma, sans-serif;color:#000;letter-spacing:0.6px;">Setup</div>
<div class="cell" style="left:135px;top:929.0px;width:52px;height:45.0px"></div>
<div class="cell" style="left:190px;top:929.0px;width:52px;height:45.0px"></div>
<div class="cell" style="left:245px;top:929.0px;width:52px;height:45.0px"></div>
<div class="cell" style="left:301px;top:929.0px;width:407px;height:45.0px"></div>
<div class="cell" style="left:711px;top:929.0px;width:137px;height:45.0px"></div>
<div class="cell" style="left:852px;top:929.0px;width:137px;height:45.0px"></div>
<div class="cell" style="left:992px;top:929.0px;width:138px;height:45.0px"></div>
<div class="cell" style="left:1133px;top:929.0px;width:137px;height:45.0px"></div>
<div class="cell" style="left:1274px;top:929.0px;width:137px;height:45.0px"></div>
<div class="cell" style="left:1414px;top:929.0px;width:137px;height:45.0px"></div>
<div class="cell" style="left:1555px;top:929.0px;width:137px;height:45.0px"></div>
<div class="cell" style="left:1695px;top:929.0px;width:112px;height:45.0px"></div>
<div class="t " style="left:135.00px;width:52px;text-align:center;top:940.98px;font:normal 22px/22px 'Liberation Sans', Arial, sans-serif;color:#000;">11</div>
<div class="lt y" style="left:203.2px;top:938.5px"></div>
<div class="lt g" style="left:258.4px;top:938.5px"></div>
<div class="t " style="right:1088.50px;top:940.98px;font:normal 22px/22px 'Liberation Sans', Arial, sans-serif;color:#000;">0 kW</div>
<div class="t " style="right:947.50px;top:940.98px;font:normal 22px/22px 'Liberation Sans', Arial, sans-serif;color:#000;">150 kW</div>
<div class="t " style="right:807.50px;top:940.98px;font:normal 22px/22px 'Liberation Sans', Arial, sans-serif;color:#000;">0 %</div>
<div class="t " style="right:666.20px;top:940.98px;font:normal 22px/22px 'Liberation Sans', Arial, sans-serif;color:#000;">1,931 kWh</div>
<div class="t " style="right:524.50px;top:940.98px;font:normal 22px/22px 'Liberation Sans', Arial, sans-serif;color:#000;">$ 1,040</div>
<div class="t " style="right:384.70px;top:940.98px;font:normal 22px/22px 'Liberation Sans', Arial, sans-serif;color:#000;">1,534 MWh</div>
<div class="sb" style="left:1719.4px;top:931.0px"></div>
<div class="t " style="left:1719.80px;width:63px;text-align:center;top:938.15px;font:normal 21.8px/21.8px 'DejaVu Sans Condensed', 'DejaVu Sans', Tahoma, sans-serif;color:#000;letter-spacing:0.6px;">Setup</div>
<div class="a" style="left:301px;top:449px;width:325px;height:517px;background:#e9e9ed;filter:blur(1.5px)"></div>
<div class="blob" style="left:312px;top:465.0px;width:22px"></div>
<div class="blob" style="left:337px;top:465.0px;width:77px"></div>
<div class="blob" style="left:432px;top:465.0px;width:71px"></div>
<div class="blob" style="left:517px;top:465.0px;width:102px"></div>
<div class="blob" style="left:312px;top:513.0px;width:24px"></div>
<div class="blob" style="left:343px;top:513.0px;width:71px"></div>
<div class="blob" style="left:432px;top:513.0px;width:71px"></div>
<div class="blob" style="left:519px;top:513.0px;width:103px"></div>
<div class="blob" style="left:306px;top:561.0px;width:99px"></div>
<div class="blob" style="left:423px;top:561.0px;width:27px"></div>
<div class="blob" style="left:472px;top:561.0px;width:102px"></div>
<div class="blob" style="left:306px;top:609.0px;width:148px"></div>
<div class="blob" style="left:304px;top:657.0px;width:34px"></div>
<div class="blob" style="left:348px;top:657.0px;width:92px"></div>
<div class="blob" style="left:448px;top:657.0px;width:82px"></div>
<div class="blob" style="left:530px;top:657.0px;width:58px"></div>
<div class="blob" style="left:304px;top:705.0px;width:37px"></div>
<div class="blob" style="left:348px;top:705.0px;width:55px"></div>
<div class="blob" style="left:413px;top:705.0px;width:55px"></div>
<div class="blob" style="left:478px;top:705.0px;width:106px"></div>
<div class="blob" style="left:304px;top:753.0px;width:51px"></div>
<div class="blob" style="left:376px;top:753.0px;width:88px"></div>
<div class="blob" style="left:307px;top:801.0px;width:34px"></div>
<div class="blob" style="left:348px;top:801.0px;width:79px"></div>
<div class="blob" style="left:304px;top:849.0px;width:75px"></div>
<div class="blob" style="left:403px;top:849.0px;width:82px"></div>
<div class="blob" style="left:304px;top:897.0px;width:82px"></div>
<div class="blob" style="left:389px;top:897.0px;width:65px"></div>
<div class="blob" style="left:304px;top:945.0px;width:24px"></div>
<div class="blob" style="left:335px;top:945.0px;width:57px"></div>
<div class="a" style="z-index:5;left:1494.3px;top:282.4px;width:161.6px;height:60px;border:8.2px solid #fcd716;border-radius:15px;box-shadow:0 0 3px rgba(252,215,22,.55)"></div>
<div class="a" style="left:1361.6px;top:330.5px;width:135.6px;height:94.8px;background:#f8f8fa;border:1px solid #c9c9cc;border-radius:5px;box-shadow:0 2px 4px rgba(0,0,0,.12)"></div>
<div class="t " style="left:1372.00px;top:346.88px;font:normal 22px/22px 'DejaVu Sans Condensed', 'DejaVu Sans', Tahoma, sans-serif;color:#000;letter-spacing:0.35px;">PDF</div>
<div class="a" style="left:1366.4px;top:378.2px;width:126.1px;height:41.9px;background:#dfdfe3;border-radius:3px"></div>
<div class="t " style="left:1372.00px;top:390.08px;font:normal 22px/22px 'DejaVu Sans Condensed', 'DejaVu Sans', Tahoma, sans-serif;color:#000;letter-spacing:0.35px;">CSV</div>
</div>
</body></html>
